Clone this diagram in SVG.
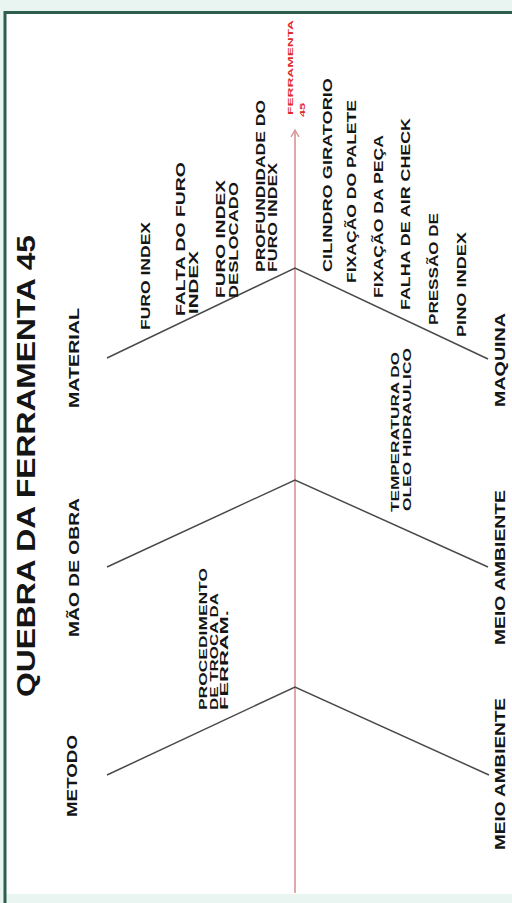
<svg xmlns="http://www.w3.org/2000/svg" width="512" height="903" viewBox="0 0 512 903">
  <defs>
    <style>
      .t { font-family: "Liberation Sans", Arial, sans-serif; font-weight: bold; fill: #151515; }
      .title { font-size: 26px; }
      .cat { font-size: 14px; }
      .sub { font-size: 12px; }
      .small { font-size: 10.5px; }
      .head { font-size: 7px; fill: #e02a2a; }
      .bone { stroke: #4a4a4a; stroke-width: 1.5; fill: none; }
      .spine { stroke: #d58c8c; stroke-width: 1.5; fill: none; }
    </style>
    <marker id="arr" markerWidth="10" markerHeight="10" refX="5" refY="5" orient="auto" markerUnits="userSpaceOnUse">
      <path d="M0,1 L7,5 L0,9" fill="none" stroke="#d58c8c" stroke-width="1.3"/>
    </marker>
  </defs>
  <rect x="0" y="0" width="512" height="903" fill="#e8f5f1"/>
  <rect x="6" y="13" width="510" height="881" fill="#ffffff"/>
  <path d="M5,903 L5,12.5 L512,12.5" fill="none" stroke="#2e5e50" stroke-width="3"/>

  <g id="title">
    <text class="t title" transform="translate(35,697) rotate(-90)" textLength="462" lengthAdjust="spacingAndGlyphs">QUEBRA DA FERRAMENTA 45</text>
  </g>

  <g id="connectors">
    <line class="spine" x1="295" y1="893" x2="295" y2="132" marker-end="url(#arr)"/>
    <polyline class="bone" points="107,358 295,268 488,359"/>
    <polyline class="bone" points="107,567 295,480 488,567"/>
    <polyline class="bone" points="107,775 295,687 489,775"/>
  </g>

  <g id="effect">
    <text class="t head" transform="translate(293,115) rotate(-90)" textLength="95" lengthAdjust="spacingAndGlyphs">FERRAMENTA</text>
    <text class="t head" transform="translate(305,117) rotate(-90)" textLength="14" lengthAdjust="spacingAndGlyphs">45</text>
  </g>

  <g id="material">
    <text class="t cat" transform="translate(79,408) rotate(-90)" textLength="100" lengthAdjust="spacingAndGlyphs">MATERIAL</text>
    <text class="t sub" transform="translate(150,330) rotate(-90)" textLength="108" lengthAdjust="spacingAndGlyphs">FURO INDEX</text>
    <text class="t sub" transform="translate(185,316) rotate(-90)" textLength="154" lengthAdjust="spacingAndGlyphs">FALTA DO FURO</text>
    <text class="t sub" transform="translate(198,314) rotate(-90)" textLength="63" lengthAdjust="spacingAndGlyphs">INDEX</text>
    <text class="t sub" transform="translate(225,298) rotate(-90)" textLength="118" lengthAdjust="spacingAndGlyphs">FURO INDEX</text>
    <text class="t sub" transform="translate(238,298) rotate(-90)" textLength="116" lengthAdjust="spacingAndGlyphs">DESLOCADO</text>
    <text class="t sub" transform="translate(265,272) rotate(-90)" textLength="172" lengthAdjust="spacingAndGlyphs">PROFUNDIDADE DO</text>
    <text class="t sub" transform="translate(277,272) rotate(-90)" textLength="109" lengthAdjust="spacingAndGlyphs">FURO INDEX</text>
  </g>

  <g id="mao-de-obra">
    <text class="t cat" transform="translate(79,637) rotate(-90)" textLength="139" lengthAdjust="spacingAndGlyphs">MÃO DE OBRA</text>
  </g>

  <g id="metodo">
    <text class="t cat" transform="translate(77,817) rotate(-90)" textLength="82" lengthAdjust="spacingAndGlyphs">METODO</text>
    <text class="t small" transform="translate(207,710) rotate(-90)" textLength="142" lengthAdjust="spacingAndGlyphs">PROCEDIMENTO</text>
    <text class="t small" transform="translate(217.5,710) rotate(-90)" textLength="117" lengthAdjust="spacingAndGlyphs">DE TROCA DA</text>
    <text class="t small" transform="translate(228,710) rotate(-90)" textLength="100" lengthAdjust="spacingAndGlyphs">FERRAM.</text>
  </g>

  <g id="maquina">
    <text class="t cat" transform="translate(505,407) rotate(-90)" textLength="94" lengthAdjust="spacingAndGlyphs">MAQUINA</text>
    <text class="t sub" transform="translate(332,272) rotate(-90)" textLength="194" lengthAdjust="spacingAndGlyphs">CILINDRO GIRATORIO</text>
    <text class="t sub" transform="translate(356,283) rotate(-90)" textLength="183" lengthAdjust="spacingAndGlyphs">FIXAÇÃO DO PALETE</text>
    <text class="t sub" transform="translate(383,298) rotate(-90)" textLength="163" lengthAdjust="spacingAndGlyphs">FIXAÇÃO DA PEÇA</text>
    <text class="t sub" transform="translate(410,310) rotate(-90)" textLength="192" lengthAdjust="spacingAndGlyphs">FALHA DE AIR CHECK</text>
    <text class="t sub" transform="translate(438,325) rotate(-90)" textLength="112" lengthAdjust="spacingAndGlyphs">PRESSÃO DE</text>
    <text class="t sub" transform="translate(466,337) rotate(-90)" textLength="105" lengthAdjust="spacingAndGlyphs">PINO INDEX</text>
  </g>

  <g id="meio-ambiente-1">
    <text class="t cat" transform="translate(505,645) rotate(-90)" textLength="155" lengthAdjust="spacingAndGlyphs">MEIO AMBIENTE</text>
    <text class="t small" transform="translate(399,512) rotate(-90)" textLength="160" lengthAdjust="spacingAndGlyphs">TEMPERATURA DO</text>
    <text class="t small" transform="translate(410.5,511) rotate(-90)" textLength="163" lengthAdjust="spacingAndGlyphs">OLEO HIDRAULICO</text>
  </g>

  <g id="meio-ambiente-2">
    <text class="t cat" transform="translate(505,850) rotate(-90)" textLength="152" lengthAdjust="spacingAndGlyphs">MEIO AMBIENTE</text>
  </g>
</svg>
